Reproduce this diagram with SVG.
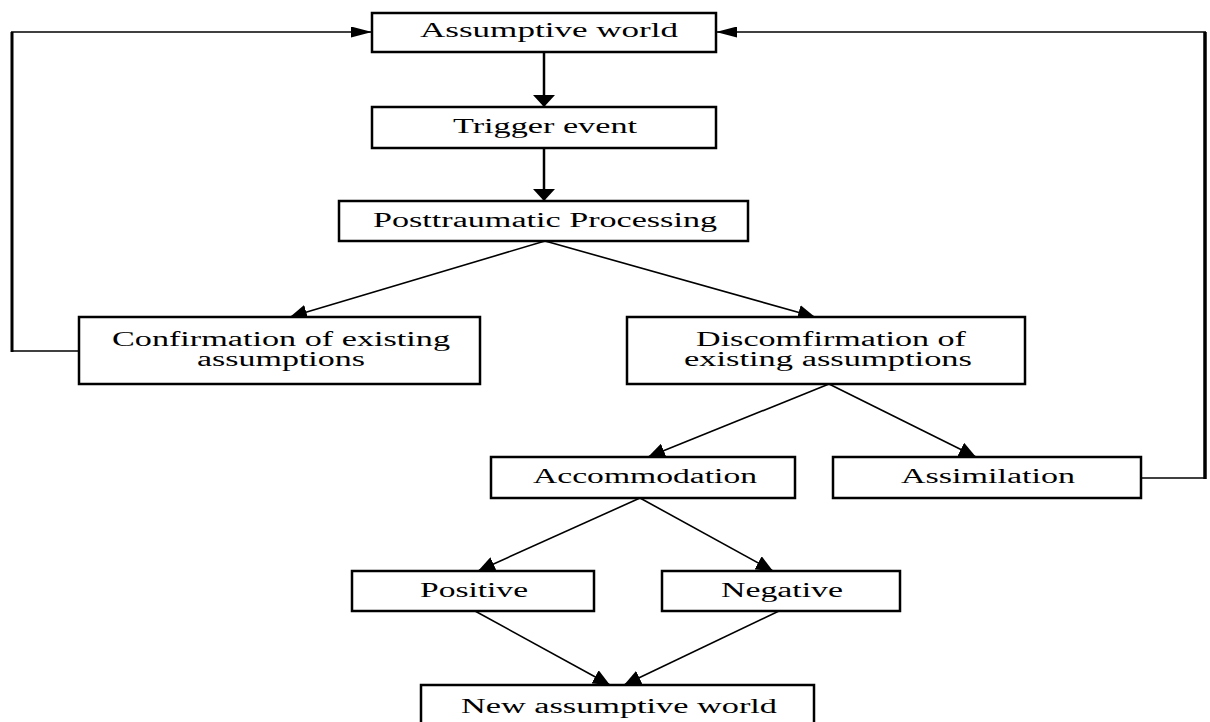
<svg xmlns="http://www.w3.org/2000/svg" width="1210" height="722" viewBox="0 0 1210 722">
<style>
.box{fill:#fff;stroke:#000;stroke-width:2.5}
.lbl{font-family:"Liberation Serif","Times New Roman",serif;font-size:20px;fill:#000;text-anchor:middle}
.thick{fill:none;stroke:#000;stroke-width:2.5}
.thin{fill:none;stroke:#000;stroke-width:1.6}
</style>
<defs>
<marker id="ahv" markerUnits="userSpaceOnUse" markerWidth="13" markerHeight="22" refX="12" refY="11" orient="auto" viewBox="0 0 13 22"><path d="M0,0 L12,11 L0,22 z" fill="#000"/></marker>
<marker id="ahd" markerUnits="userSpaceOnUse" markerWidth="18" markerHeight="15" refX="17" refY="7.5" orient="auto" viewBox="0 0 18 15"><path d="M0,0 L17,7.5 L0,15 z" fill="#000"/></marker>
<marker id="ahh" markerUnits="userSpaceOnUse" markerWidth="22" markerHeight="11" refX="21" refY="5.5" orient="auto" viewBox="0 0 22 11"><path d="M0,0 L21,5.5 L0,11 z" fill="#000"/></marker>
</defs>
<g id="connectors">
<line class="thick" x1="544" y1="52" x2="544" y2="107" marker-end="url(#ahv)"/>
<line class="thick" x1="544" y1="148" x2="544" y2="201" marker-end="url(#ahv)"/>
<line class="thin" x1="545" y1="241" x2="290" y2="317" marker-end="url(#ahd)"/>
<line class="thin" x1="545" y1="241" x2="815" y2="317" marker-end="url(#ahd)"/>
<line class="thin" x1="829" y1="384" x2="648" y2="457" marker-end="url(#ahd)"/>
<line class="thin" x1="829" y1="384" x2="976" y2="457" marker-end="url(#ahd)"/>
<line class="thin" x1="640" y1="498" x2="478" y2="571" marker-end="url(#ahd)"/>
<line class="thin" x1="640" y1="498" x2="773" y2="571" marker-end="url(#ahd)"/>
<line class="thin" x1="475" y1="611" x2="610" y2="685" marker-end="url(#ahd)"/>
<line class="thin" x1="779" y1="611" x2="624" y2="685" marker-end="url(#ahd)"/>
<path class="thin" d="M79,351 H12"/>
<line x1="12" y1="352" x2="12" y2="32" stroke="#000" stroke-width="3"/>
<path class="thin" d="M11,32 H372" marker-end="url(#ahh)"/>
<path class="thin" d="M1141,478 H1205"/>
<line x1="1205" y1="479" x2="1205" y2="32" stroke="#000" stroke-width="3.5"/>
<path class="thin" d="M1206,32 H716" marker-end="url(#ahh)"/>
</g>
<g id="n-assumptive">
<rect class="box" x="372" y="13" width="344" height="39"/>
<text class="lbl" x="549" y="37" textLength="258" lengthAdjust="spacingAndGlyphs">Assumptive world</text>
</g>
<g id="n-trigger">
<rect class="box" x="372" y="107" width="344" height="41"/>
<text class="lbl" x="545" y="133" textLength="184" lengthAdjust="spacingAndGlyphs">Trigger event</text>
</g>
<g id="n-posttraumatic">
<rect class="box" x="339" y="201" width="409" height="40"/>
<text class="lbl" x="545" y="227" textLength="344" lengthAdjust="spacingAndGlyphs">Posttraumatic Processing</text>
</g>
<g id="n-confirmation">
<rect class="box" x="79" y="317" width="401" height="67"/>
<text class="lbl" x="281" y="346" textLength="338" lengthAdjust="spacingAndGlyphs">Confirmation of existing</text>
<text class="lbl" x="281" y="366" textLength="168" lengthAdjust="spacingAndGlyphs">assumptions</text>
</g>
<g id="n-discomfirmation">
<rect class="box" x="627" y="317" width="398" height="67"/>
<text class="lbl" x="831" y="346" textLength="270" lengthAdjust="spacingAndGlyphs">Discomfirmation of</text>
<text class="lbl" x="828" y="366" textLength="288" lengthAdjust="spacingAndGlyphs">existing assumptions</text>
</g>
<g id="n-accommodation">
<rect class="box" x="491" y="457" width="304" height="41"/>
<text class="lbl" x="645" y="483" textLength="224" lengthAdjust="spacingAndGlyphs">Accommodation</text>
</g>
<g id="n-assimilation">
<rect class="box" x="833" y="457" width="308" height="41"/>
<text class="lbl" x="988" y="483" textLength="174" lengthAdjust="spacingAndGlyphs">Assimilation</text>
</g>
<g id="n-positive">
<rect class="box" x="352" y="571" width="242" height="40"/>
<text class="lbl" x="474" y="597" textLength="108" lengthAdjust="spacingAndGlyphs">Positive</text>
</g>
<g id="n-negative">
<rect class="box" x="662" y="571" width="238" height="40"/>
<text class="lbl" x="782" y="597" textLength="122" lengthAdjust="spacingAndGlyphs">Negative</text>
</g>
<g id="n-new">
<rect class="box" x="421" y="685" width="393" height="42"/>
<text class="lbl" x="619" y="713" textLength="316" lengthAdjust="spacingAndGlyphs">New assumptive world</text>
</g>
</svg>
